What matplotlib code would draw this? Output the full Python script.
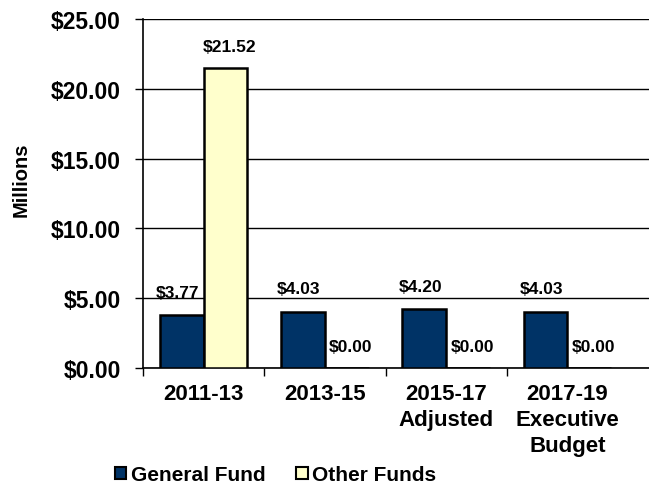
import matplotlib
matplotlib.use("Agg")
import matplotlib.pyplot as plt
from matplotlib.patches import Patch
import numpy as np

categories = ["2011-13", "2013-15", "2015-17\nAdjusted", "2017-19\nExecutive\nBudget"]
general_fund = [3.77, 4.03, 4.20, 4.03]
other_funds = [21.52, 0.00, 0.00, 0.00]
yticks = [0, 5, 10, 15, 20, 25]

plt.rcParams['font.family'] = ['Liberation Sans', 'DejaVu Sans']
plt.rcParams['font.weight'] = 'bold'

fig = plt.figure(figsize=(6.49, 4.89), dpi=100)
ax = fig.add_axes([143/649, 1-369/489, 1-143/649, (369-20)/489])

x = np.arange(len(categories))
w = 0.36
gf_color = "#003366"
of_color = "#FFFFCC"
ax.bar(x - w/2, general_fund, w, color=gf_color, edgecolor="black", linewidth=1.8, zorder=3)
ax.bar(x + w/2, other_funds, w, color=of_color, edgecolor="black", linewidth=1.8, zorder=3)

for xi, v in zip(x - w/2, general_fund):
    ax.annotate(f"${v:.2f}", (xi, v), xytext=(-3, 11), textcoords="offset points",
                ha="center", va="bottom", fontsize=12.5, fontweight="bold")
for xi, v in zip(x + w/2, other_funds):
    ax.annotate(f"${v:.2f}", (xi, v), xytext=(3, 10), textcoords="offset points",
                ha="center", va="bottom", fontsize=12.5, fontweight="bold")

ax.set_ylim(0, 25)
ax.set_yticks(yticks)
ax.set_yticklabels([f"${t:.2f}" for t in yticks], fontsize=16.5, fontweight="bold")
ax.yaxis.grid(True, color="black", linewidth=1.0, zorder=0)
ax.set_axisbelow(True)

ax.set_xlim(-0.5, -0.5 + (649-142)/121.5)
ax.set_xticks(x)
ax.set_xticklabels(categories, fontsize=16, fontweight="bold", linespacing=1.3)
ax.set_xticks(np.arange(len(categories)) - 0.5, minor=True)
ax.tick_params(axis="x", which="major", length=0, pad=11)
ax.tick_params(axis="x", which="minor", length=6, width=1, direction="out")
ax.tick_params(axis="y", length=6, width=1, direction="out", pad=10)

for s in ["top", "right"]:
    ax.spines[s].set_visible(False)
ax.spines["left"].set_linewidth(1.2)
ax.spines["bottom"].set_linewidth(1.2)

ax.set_ylabel("Millions", fontsize=14.5, fontweight="bold")
ax.yaxis.set_label_coords(-0.223, 0.5415)

handles = [Patch(facecolor=gf_color, edgecolor="black", linewidth=1.5),
           Patch(facecolor=of_color, edgecolor="black", linewidth=1.5)]
fig.legend(handles, ["General Fund", "Other Funds"], loc="center",
           bbox_to_anchor=(0.4245, 1-476/489), ncol=2, frameon=False,
           prop={"size": 15, "weight": "bold"}, handlelength=0.55, handleheight=0.55,
           handletextpad=0.2, columnspacing=1.5, borderaxespad=0)

fig.savefig("out.png", dpi=100)
